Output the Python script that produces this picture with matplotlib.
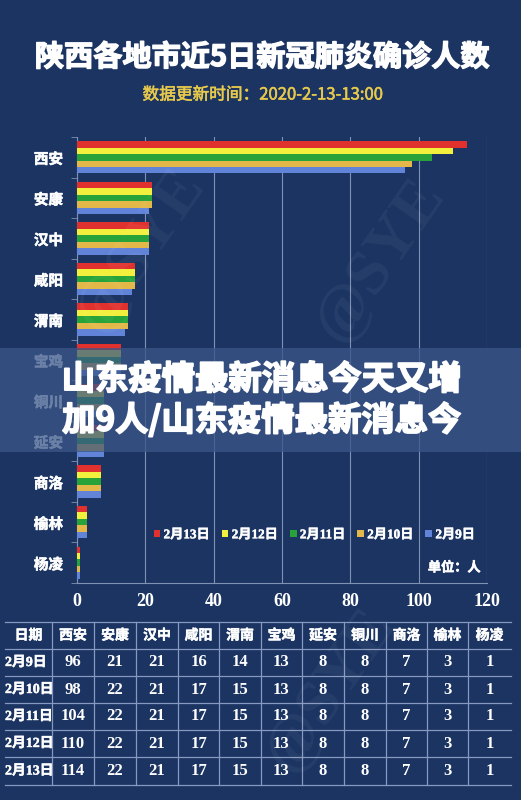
import numpy as np
import matplotlib.pyplot as plt
import matplotlib.patheffects as pe

plt.rcParams['font.family'] = ['Noto Sans CJK SC', 'DejaVu Sans']

# chart data (top to bottom as drawn)
cities = ['西安', '安康', '汉中', '咸阳', '渭南', '宝鸡', '铜川', '延安', '商洛', '榆林', '杨凌']
feb13 = [114, 22, 21, 17, 15, 13, 8, 8, 7, 3, 1]
feb12 = [110, 22, 21, 17, 15, 13, 8, 8, 7, 3, 1]
feb11 = [104, 22, 21, 17, 15, 13, 8, 8, 7, 3, 1]
feb10 = [98, 22, 21, 17, 15, 13, 8, 8, 7, 3, 1]
feb9 = [96, 21, 21, 16, 14, 13, 8, 8, 7, 3, 1]
series = [feb13, feb12, feb11, feb10, feb9]
labels = ['2月13日', '2月12日', '2月11日', '2月10日', '2月9日']
colors = ['#e0312e', '#f2f03c', '#27a339', '#e3b848', '#6183d8']

# table data
tab_cols = ['日期', '西安', '安康', '汉中', '咸阳', '渭南', '宝鸡', '延安', '铜川', '商洛', '榆林', '杨凌']
tab_dates = ['2月9日', '2月10日', '2月11日', '2月12日', '2月13日']
tab_rows = [
    [96, 21, 21, 16, 14, 13, 8, 8, 7, 3, 1],
    [98, 22, 21, 17, 15, 13, 8, 8, 7, 3, 1],
    [104, 22, 21, 17, 15, 13, 8, 8, 7, 3, 1],
    [110, 22, 21, 17, 15, 13, 8, 8, 7, 3, 1],
    [114, 22, 21, 17, 15, 13, 8, 8, 7, 3, 1],
]

bg = '#1b3462'
grid_c = '#7f91b5'
serif_cjk = ['Liberation Serif', 'Noto Sans CJK SC']


def thick(w, c='white'):
    # fake a heavier weight for the CJK font
    return [pe.withStroke(linewidth=w, foreground=c)]


fig = plt.figure(figsize=(5.21, 8.0), dpi=100, facecolor=bg)

# ---- bar chart ----
ax = fig.add_axes([77 / 521, 1 - 583 / 800, 410 / 521, 446 / 800])
ax.set_facecolor(bg)
y = np.arange(len(cities))
h = 0.16
for i, (vals, lab, col) in enumerate(zip(series, labels, colors)):
    ax.barh(y - 0.32 + i * h, vals, height=h, color=col, label=lab, zorder=3)
ax.set_xlim(0, 120)
ax.set_ylim(len(cities) - 0.5, -0.5)
ax.set_xticks(np.arange(0, 121, 20))
ax.set_yticks(y)
ax.set_yticklabels(cities, color='white', fontsize=10.5, fontweight='bold')
for t in ax.get_yticklabels():
    t.set_path_effects(thick(0.4))
ax.set_yticks(np.arange(-0.5, len(cities), 1), minor=True)
ax.tick_params(axis='y', which='major', length=0, pad=10)
ax.tick_params(axis='y', which='minor', length=4, color=grid_c)
ax.tick_params(axis='x', length=0, pad=7)
for t in ax.get_xticklabels():
    t.set_family('Liberation Serif')
    t.set_fontweight('bold')
    t.set_fontsize(13)
    t.set_color('white')
ax.grid(axis='x', color=grid_c, lw=0.8, zorder=0)
for s in ['top', 'right']:
    ax.spines[s].set_visible(False)
ax.spines['left'].set_color(grid_c)
ax.spines['bottom'].set_color(grid_c)

leg = ax.legend(loc='lower right', bbox_to_anchor=(1.0, 0.067), ncol=5, frameon=False,
                handlelength=0.5, handleheight=0.5, handletextpad=0.25, columnspacing=0.9,
                prop={'family': serif_cjk, 'weight': 'bold', 'size': 9.5})
for t in leg.get_texts():
    t.set_color('white')
    t.set_path_effects(thick(0.3))
ax.text(0.985, 0.035, '单位：人', transform=ax.transAxes, ha='right', va='center',
        color='white', fontsize=9.5, fontweight='bold', path_effects=thick(0.4))

# ---- overlay: titles, banner, table ----
ov = fig.add_axes([0, 0, 1, 1])
ov.set_xlim(0, 521)
ov.set_ylim(800, 0)
ov.axis('off')
ov.patch.set_alpha(0)

# faint watermark
for wx, wy in [(380, 260), (140, 250), (330, 690)]:
    ov.text(wx, wy, '@SYE', rotation=55, ha='center', va='center', fontsize=46,
            color='white', alpha=0.05, fontweight='bold', family='Liberation Serif')

ov.text(262, 57, '陕西各地市近5日新冠肺炎确诊人数', ha='center', va='center',
        color='white', fontsize=21, fontweight='bold', path_effects=thick(1.0))
ov.text(263, 95, '数据更新时间：2020-2-13-13:00', ha='center', va='center',
        color='#e7c94c', fontsize=12, path_effects=thick(0.4, '#e7c94c'))

ov.add_patch(plt.Rectangle((0, 348), 521, 104, color='#3a5688', alpha=0.75, lw=0))
ov.text(262, 380, '山东疫情最新消息今天又增', ha='center', va='center',
        color='white', fontsize=24, fontweight='bold', path_effects=thick(1.3))
ov.text(262, 420, '加9人/山东疫情最新消息今', ha='center', va='center',
        color='white', fontsize=24, fontweight='bold', path_effects=thick(1.3))

# table
col_edges = [5, 52, 94, 136, 178, 219, 261, 302, 344, 386, 427, 468, 511]
row_edges = [622, 649, 676, 703, 730, 757, 785]
line_c = '#8799bf'
for ry in row_edges:
    ov.plot([5, 511], [ry, ry], color=line_c, lw=0.9)
for cx in col_edges[1:-1]:
    ov.plot([cx, cx], [row_edges[0], row_edges[-1]], color=line_c, lw=0.9)

hy = (row_edges[0] + row_edges[1]) / 2
for j, name in enumerate(tab_cols):
    cx = (col_edges[j] + col_edges[j + 1]) / 2
    ov.text(cx, hy, name, ha='center', va='center', color='white',
            fontsize=10, fontweight='bold', path_effects=thick(0.35))
for i, (d, row) in enumerate(zip(tab_dates, tab_rows)):
    ry = (row_edges[i + 1] + row_edges[i + 2]) / 2
    ov.text(5, ry, d, ha='left', va='center', color='white', fontsize=10,
            fontweight='bold', family=serif_cjk, path_effects=thick(0.3))
    for j, v in enumerate(row):
        cx = (col_edges[j + 1] + col_edges[j + 2]) / 2
        ov.text(cx, ry, str(v), ha='center', va='center', color='white',
                fontsize=12, fontweight='bold', family='Liberation Serif')

fig.savefig('out.png', dpi=100, facecolor=bg)
